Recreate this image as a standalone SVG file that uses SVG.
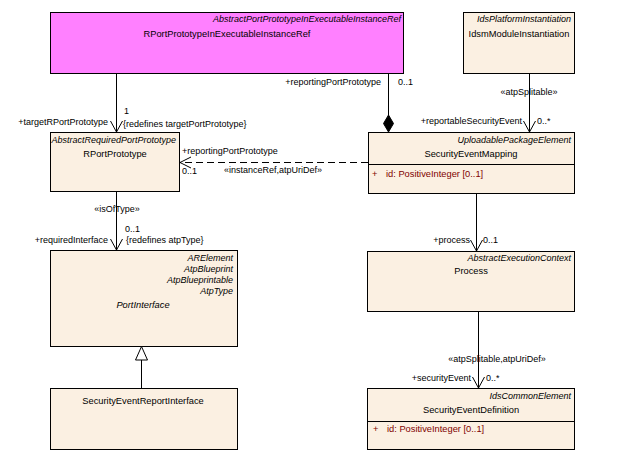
<svg xmlns="http://www.w3.org/2000/svg" width="618" height="457" viewBox="0 0 618 457">
  <style>
    .box { fill: #FBF0E2; stroke: #000; stroke-width: 1; }
    .ref { fill: #FF80FF; stroke: #000; stroke-width: 1; }
    .sep { stroke: #000; stroke-width: 1; }
    text { font-family: "Liberation Sans", Arial, sans-serif; font-size: 9px; fill: #000; }
    .st { font-style: italic; text-anchor: end; }
    .nm { text-anchor: middle; font-size: 9.3px; }
    .it { font-style: italic; }
    .attr { fill: #800000; font-size: 9.3px; }
    .lbl { font-size: 9px; }
    .end { text-anchor: end; }
    .mid { text-anchor: middle; }
    .line { stroke: #000; stroke-width: 1; fill: none; }
    .dash { stroke: #000; stroke-width: 1; fill: none; stroke-dasharray: 7 4; }
  </style>
  <rect width="618" height="457" fill="#fff"/>

  <g id="RPortPrototypeInExecutableInstanceRef">
    <rect class="ref" x="50.5" y="12.5" width="353" height="61"/>
    <text class="st" x="401" y="22">AbstractPortPrototypeInExecutableInstanceRef</text>
    <text class="nm" x="227" y="37">RPortPrototypeInExecutableInstanceRef</text>
  </g>

  <g id="IdsmModuleInstantiation">
    <rect class="box" x="463.5" y="12.5" width="111" height="61"/>
    <text class="st" x="571" y="22">IdsPlatformInstantiation</text>
    <text class="nm" x="519" y="37">IdsmModuleInstantiation</text>
  </g>

  <g id="RPortPrototype">
    <rect class="box" x="50.5" y="132.5" width="129" height="59"/>
    <text class="st" x="176" y="143">AbstractRequiredPortPrototype</text>
    <text class="nm" x="115" y="157">RPortPrototype</text>
  </g>

  <g id="SecurityEventMapping">
    <rect class="box" x="368.5" y="132.5" width="206" height="61"/>
    <line class="sep" x1="368.5" y1="164.5" x2="574.5" y2="164.5"/>
    <text class="st" x="571" y="143">UploadablePackageElement</text>
    <text class="nm" x="471" y="157">SecurityEventMapping</text>
    <text class="attr" x="372" y="177">+</text>
    <text class="attr" x="386" y="177">id: PositiveInteger [0..1]</text>
  </g>

  <g id="PortInterface">
    <rect class="box" x="50.5" y="250.5" width="187" height="96"/>
    <text class="st" x="233" y="261">ARElement</text>
    <text class="st" x="233" y="272">AtpBlueprint</text>
    <text class="st" x="233" y="283">AtpBlueprintable</text>
    <text class="st" x="233" y="294">AtpType</text>
    <text class="nm it" x="143" y="308">PortInterface</text>
  </g>

  <g id="Process">
    <rect class="box" x="367.5" y="251.5" width="207" height="60"/>
    <text class="st" x="571" y="261">AbstractExecutionContext</text>
    <text class="nm" x="471" y="274">Process</text>
  </g>

  <g id="SecurityEventReportInterface">
    <rect class="box" x="50.5" y="388.5" width="187" height="61"/>
    <text class="nm" x="143" y="404">SecurityEventReportInterface</text>
  </g>

  <g id="SecurityEventDefinition">
    <rect class="box" x="367.5" y="388.5" width="207" height="61"/>
    <line class="sep" x1="367.5" y1="421.5" x2="574.5" y2="421.5"/>
    <text class="st" x="571" y="399">IdsCommonElement</text>
    <text class="nm" x="471" y="413">SecurityEventDefinition</text>
    <text class="attr" x="373" y="432">+</text>
    <text class="attr" x="387" y="432">id: PositiveInteger [0..1]</text>
  </g>

  <g id="connectors">
    <!-- targetRPortPrototype -->
    <line class="line" x1="116.5" y1="73" x2="116.5" y2="132"/>
    <polyline class="line" points="110.5,121 116.5,132 122.5,121"/>
    <text class="lbl end" x="108" y="125">+targetRPortPrototype</text>
    <text class="lbl" x="124" y="114">1</text>
    <text class="lbl" x="123" y="127">{redefines targetPortPrototype}</text>

    <!-- reportingPortPrototype (composition) -->
    <line class="line" x1="388.5" y1="73" x2="388.5" y2="115"/>
    <polygon points="388.5,115 393.5,123.5 388.5,132 383.5,123.5" fill="#000" stroke="#000"/>
    <text class="lbl end" x="381" y="85">+reportingPortPrototype</text>
    <text class="lbl" x="398" y="85">0..1</text>

    <!-- reportableSecurityEvent -->
    <line class="line" x1="529.5" y1="73" x2="529.5" y2="132"/>
    <polyline class="line" points="523.5,121 529.5,132 535.5,121"/>
    <text class="lbl mid" x="529" y="95">«atpSplitable»</text>
    <text class="lbl end" x="522" y="124">+reportableSecurityEvent</text>
    <text class="lbl" x="537" y="124">0..*</text>

    <!-- instanceRef reportingPortPrototype -->
    <line class="dash" x1="368" y1="162.5" x2="180" y2="162.5"/>
    <polyline class="line" points="191,157 180,162.5 191,168"/>
    <text class="lbl" x="182" y="154">+reportingPortPrototype</text>
    <text class="lbl" x="182" y="174">0..1</text>
    <text class="lbl" x="224" y="173">«instanceRef,atpUriDef»</text>

    <!-- requiredInterface -->
    <line class="line" x1="116.5" y1="191" x2="116.5" y2="250"/>
    <polyline class="line" points="110.5,239 116.5,250 122.5,239"/>
    <text class="lbl mid" x="117" y="212">«isOfType»</text>
    <text class="lbl" x="125" y="232">0..1</text>
    <text class="lbl end" x="108" y="243">+requiredInterface</text>
    <text class="lbl" x="126" y="243">{redefines atpType}</text>

    <!-- process -->
    <line class="line" x1="476.5" y1="193" x2="476.5" y2="251"/>
    <polyline class="line" points="470.5,240 476.5,251 482.5,240"/>
    <text class="lbl end" x="470" y="243">+process</text>
    <text class="lbl" x="483" y="243">0..1</text>

    <!-- securityEvent -->
    <line class="line" x1="478.5" y1="311" x2="478.5" y2="388"/>
    <polyline class="line" points="472.5,377 478.5,388 484.5,377"/>
    <text class="lbl mid" x="497" y="362">«atpSplitable,atpUriDef»</text>
    <text class="lbl end" x="471" y="381">+securityEvent</text>
    <text class="lbl" x="486" y="381">0..*</text>

    <!-- generalization -->
    <line class="line" x1="141.5" y1="360" x2="141.5" y2="388"/>
    <polygon points="141.5,346.5 135.5,360 147.5,360" fill="#fff" stroke="#000"/>
  </g>
</svg>
